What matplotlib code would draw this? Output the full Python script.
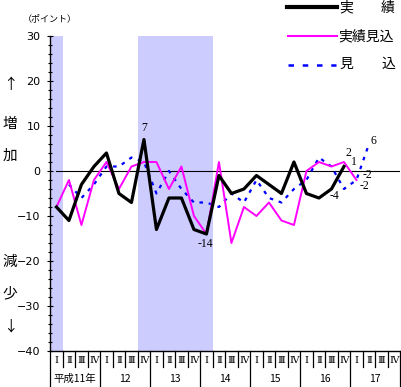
import numpy as np
import matplotlib.pyplot as plt
from matplotlib.lines import Line2D

plt.rcParams['font.family'] = ['Noto Sans CJK JP', 'DejaVu Sans']

W, H = 402, 387

quarters = ['Ⅰ', 'Ⅱ', 'Ⅲ', 'Ⅳ']
years = ['平成11年', '12', '13', '14', '15', '16', '17']

# 実績 (from 11年I), 実績見込 (from 11年I), 見込 (from 11年II)
jisseki = [-8, -11, -3, 1, 4, -5, -7, 7, -13, -6, -6, -13, -14, -1,
           -5, -4, -1, -3, -5, 2, -5, -6, -4, 1]
jisseki_mikomi = [-8, -2, -12, -2, 2, -4, 1, 2, 2, -4, 1, -10, -14, 2,
                  -16, -8, -10, -7, -11, -12, 0, 2, 1, 2, -2]
mikomi = [-3, -6, -3, 1, 1, 3, 2, -5, 0, -4, -7, -7, -8, -5,
          -7, -2, -6, -7, -4, -2, 3, 1, -4, -2, 6]
mikomi_start = 1

# recession bands (quarter index ranges)
shade = [(0, 0), (7, 12)]

n_q = len(years) * 4


def fx(x):
    return x / W


def fy(y):
    return 1 - y / H


fig = plt.figure(figsize=(W / 100, H / 100), dpi=100)
ax = fig.add_axes([fx(50.2), fy(351), 350 / W, 315 / H])

for a, b in shade:
    ax.axvspan(a - 0.5, b + 0.5, color='#ccccff', lw=0, zorder=0)

ax.axhline(0, xmin=0.017, xmax=1, color='black', lw=0.8, zorder=1)

x1 = np.arange(len(jisseki))
x2 = np.arange(len(jisseki_mikomi))
x3 = np.arange(len(mikomi)) + mikomi_start

ax.plot(x3, mikomi, color='#0000ff', lw=1.6, ls=(0, (1.6, 2.6)), zorder=2)
ax.plot(x2, jisseki_mikomi, color='#ff00ff', lw=1.4, zorder=3)
ax.plot(x1, jisseki, color='black', lw=2.3, zorder=4)

ax.set_xlim(-0.5, n_q - 0.5)
ax.set_ylim(-40, 30)
ax.set_yticks(range(-40, 31, 10))
ax.set_yticks(range(-40, 31, 2), minor=True)
ax.tick_params(axis='y', which='major', direction='inout', length=4, width=0.8,
               labelsize=8, pad=5)
ax.tick_params(axis='y', which='minor', direction='inout', length=3, width=0.8)
for lab in ax.get_yticklabels():
    lab.set_fontfamily('DejaVu Sans')
ax.set_xticks([])
for s in ['top', 'right']:
    ax.spines[s].set_visible(False)
ax.spines['left'].set_linewidth(1.0)
ax.spines['bottom'].set_linewidth(1.0)

# data labels
lab_kw = dict(textcoords='offset points', ha='center', va='center',
              fontsize=8.5, family='Liberation Serif')
ax.annotate('7', (7, jisseki[7]), xytext=(0, 8.5), **lab_kw)
ax.annotate('-14', (12, jisseki[12]), xytext=(-1, -7), **lab_kw)
ax.annotate('-4', (22, jisseki[22]), xytext=(2.5, -5), **lab_kw)
ax.annotate('2', (23, jisseki_mikomi[23]), xytext=(3, 6.5), **lab_kw)
ax.annotate('1', (23, jisseki[23]), xytext=(7, 3.5), **lab_kw)
ax.annotate('-2', (24, jisseki_mikomi[24]), xytext=(8, 3.5), **lab_kw)
ax.annotate('-2', (24, mikomi[24 - mikomi_start]), xytext=(5.5, -4), **lab_kw)
ax.annotate('6', (25, mikomi[25 - mikomi_start]), xytext=(3.5, 2.5), **lab_kw)

# quarter / year table under the axis
tr = ax.get_xaxis_transform()
q_bot = -16 / 315
y_bot = -36 / 315
for k in range(n_q + 1):
    yb = y_bot if k % 4 == 0 else q_bot
    ax.plot([k - 0.5, k - 0.5], [0, yb], transform=tr, color='black',
            lw=0.9, clip_on=False)
for i in range(n_q):
    ax.text(i, -9.5 / 315, quarters[i % 4], transform=tr, ha='center',
            va='center', fontsize=7, family=['DejaVu Serif', 'Noto Sans CJK JP'])
for j, yr in enumerate(years):
    ax.text(j * 4 + 1.5, -28 / 315, yr, transform=tr, ha='center',
            va='center', fontsize=7.5)

# left side texts
side = [('↑', 85), ('増', 124), ('加', 156), ('減', 262), ('少', 293), ('↓', 327)]
for t, yy in side:
    fig.text(fx(10), fy(yy), t, ha='center', va='center', fontsize=10.5)
fig.text(fx(50), fy(19), '（ポイント）', ha='center', va='center', fontsize=6.5)

# legend
fig.add_artist(Line2D([fx(287), fx(337)], [fy(7), fy(7)], color='black', lw=3))
fig.add_artist(Line2D([fx(288), fx(337)], [fy(36), fy(36)], color='#ff00ff', lw=1.5))
fig.add_artist(Line2D([fx(288), fx(336)], [fy(65), fy(65)], color='#0000ff', lw=1.8,
                      ls=(0, (2.2, 3.5))))
fig.text(fx(346), fy(7.5), '実', ha='center', va='center', fontsize=10)
fig.text(fx(388), fy(7.5), '績', ha='center', va='center', fontsize=10)
fig.text(fx(366.5), fy(36.5), '実績見込', ha='center', va='center', fontsize=10)
fig.text(fx(346), fy(64), '見', ha='center', va='center', fontsize=10)
fig.text(fx(388), fy(64), '込', ha='center', va='center', fontsize=10)

fig.savefig('out.png', dpi=100)
